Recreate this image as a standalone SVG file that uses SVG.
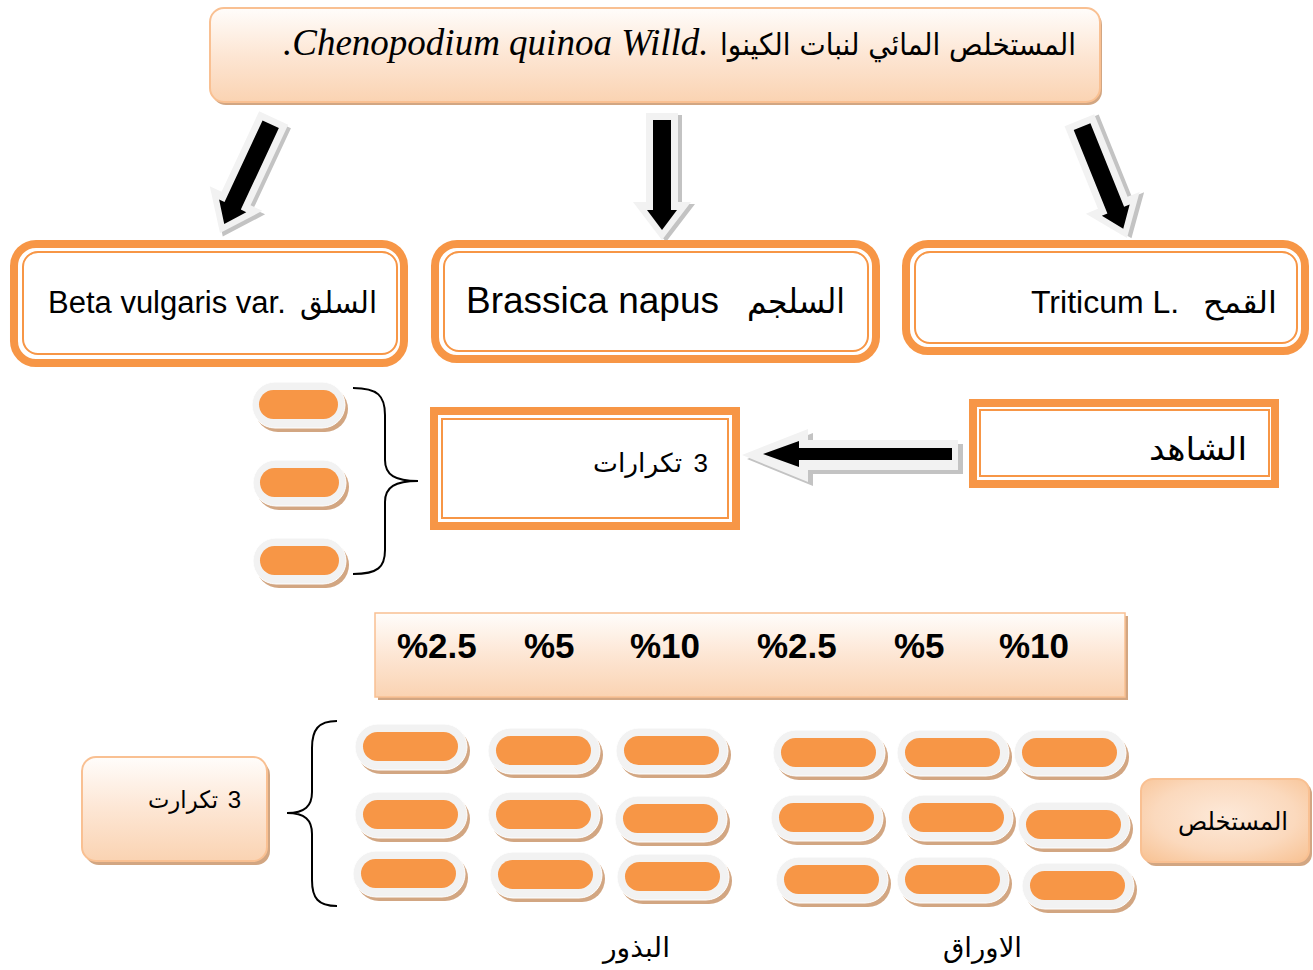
<svg xmlns="http://www.w3.org/2000/svg" width="1313" height="970" viewBox="0 0 1313 970">
<defs>
<style>
.thick{fill:#fff;stroke:#f79646;stroke-width:8}
.thin{fill:none;stroke:#f79646;stroke-width:2}
.peach{fill:url(#gPeach);stroke:#f9c092;stroke-width:2}
.sh{fill:#d2a682}
.lat{font-family:"Liberation Sans",Arial,sans-serif;fill:#000}
.ser{font-family:"Liberation Serif","Times New Roman",serif;font-style:italic;fill:#000}
.ar{font-family:"DejaVu Sans","Liberation Sans",sans-serif;fill:#000}
.pct{font-family:"Liberation Sans",Arial,sans-serif;font-weight:bold;font-size:35px;fill:#000}
.brace{fill:none;stroke:#000;stroke-width:2}
</style>
<linearGradient id="gPeach" x1="0" y1="0" x2="0" y2="1">
<stop offset="0" stop-color="#fffdfb"/>
<stop offset="0.5" stop-color="#fde6d4"/>
<stop offset="1" stop-color="#fad3b2"/>
</linearGradient>
<radialGradient id="gRad" cx="0.5" cy="0.45" r="0.7">
<stop offset="0" stop-color="#fde9d9"/>
<stop offset="0.6" stop-color="#fbd9bd"/>
<stop offset="1" stop-color="#f8c497"/>
</radialGradient>
<g id="pillB">
<rect x="3" y="4" width="112" height="46" rx="23" fill="#d2a682"/>
<rect x="0" y="0" width="112" height="46" rx="23" fill="#f2f2f2" stroke="#fff" stroke-width="1"/>
<rect x="8" y="8" width="95" height="29" rx="14.5" fill="#f79646"/>
</g>
<g id="pillS">
<rect x="3" y="4" width="93" height="46" rx="23" fill="#d2a682"/>
<rect x="0" y="0" width="93" height="46" rx="23" fill="#f2f2f2" stroke="#fff" stroke-width="1"/>
<rect x="7" y="8" width="79" height="29" rx="14.5" fill="#f79646"/>
</g>
<g id="darr">
<polygon transform="translate(4,2)" points="-16,-127 16,-127 16,-38 29,-38 0,0 -29,-38 -16,-38" fill="#c3c3c3"/>
<polygon points="-16,-127 16,-127 16,-38 29,-38 0,0 -29,-38 -16,-38" fill="#f2f2f2"/>
<polygon points="-9,-120 9,-120 9,-30 15,-30 0,-10 -15,-30 -9,-30" fill="#000"/>
</g>
</defs>
<rect width="1313" height="970" fill="#fff"/>

<g id="connectors">
<use href="#darr" transform="translate(220,233) rotate(25)"/>
<use href="#darr" transform="translate(662,240)"/>
<use href="#darr" transform="translate(1127,238) rotate(-22)"/>
<g id="hArrow">
<polygon transform="translate(5,4)" points="742,455 808,429 808,440 958,440 958,470 808,470 808,482" fill="#c3c3c3"/>
<polygon points="742,455 808,429 808,440 958,440 958,470 808,470 808,482" fill="#f2f2f2"/>
<polygon points="763,454 799,441 799,448 952,448 952,460 799,460 799,467" fill="#000"/>
</g>
<path class="brace" d="M353,388 C378,388 385,396 385,415 L385,460 C385,475 395,481 418,481 C395,481 385,487 385,502 L385,550 C385,567 378,574 353,574"/>
<path class="brace" d="M337,721 C318,721 312,730 312,748 L312,792 C312,806 305,813 287,813 C305,813 312,820 312,834 L312,880 C312,898 318,906 337,906"/>
</g>

<g id="title">
<rect x="212" y="11" width="890" height="94" rx="14" class="sh"/>
<rect x="210" y="8" width="890" height="94" rx="14" class="peach"/>
<text x="283" y="55" class="ser" font-size="37">.Chenopodium quinoa Willd.</text>
<text x="1076" y="55" class="ar" font-size="30" text-anchor="end" textLength="356" lengthAdjust="spacingAndGlyphs">المستخلص المائي لنبات الكينوا</text>
</g>

<g id="beta">
<rect x="14" y="244" width="390" height="119" rx="22" class="thick"/>
<rect x="23" y="252" width="374" height="102" rx="15" class="thin"/>
<text x="48" y="313" class="lat" font-size="31">Beta vulgaris var.</text>
<text x="377" y="313" class="ar" font-size="30" text-anchor="end" textLength="77" lengthAdjust="spacingAndGlyphs">السلق</text>
</g>

<g id="brassica">
<rect x="435" y="244" width="441" height="115" rx="22" class="thick"/>
<rect x="444" y="252" width="424" height="99" rx="15" class="thin"/>
<text x="466" y="313" class="lat" font-size="37">Brassica napus</text>
<text x="845" y="313" class="ar" font-size="34" text-anchor="end" textLength="98" lengthAdjust="spacingAndGlyphs">السلجم</text>
</g>

<g id="triticum">
<rect x="906" y="244" width="399" height="107" rx="22" class="thick"/>
<rect x="915" y="252" width="382" height="91" rx="15" class="thin"/>
<text x="1031" y="313" class="lat" font-size="32">Triticum L.</text>
<text x="1277" y="313" class="ar" font-size="30" text-anchor="end" textLength="74" lengthAdjust="spacingAndGlyphs">القمح</text>
</g>

<g id="reps1">
<rect x="434" y="411" width="302" height="115" class="thick"/>
<rect x="442" y="419" width="286" height="99" class="thin"/>
<text x="708" y="472" class="lat" font-size="26" text-anchor="end">3</text>
<text x="682" y="472" class="ar" font-size="26" text-anchor="end" textLength="89" lengthAdjust="spacingAndGlyphs">تكرارات</text>
</g>

<g id="control">
<rect x="973" y="403" width="302" height="81" class="thick"/>
<rect x="980" y="410" width="289" height="66" class="thin"/>
<text x="1247" y="460" class="ar" font-size="32" text-anchor="end" textLength="98" lengthAdjust="spacingAndGlyphs">الشاهد</text>
</g>

<g id="pillsLeft">
<use href="#pillS" x="252" y="382"/>
<use href="#pillS" x="253" y="460"/>
<use href="#pillS" x="253" y="538"/>
</g>

<g id="concentrations">
<rect x="378" y="616" width="750" height="84" class="sh"/>
<rect x="375" y="613" width="750" height="84" fill="url(#gPeach)" stroke="#f9c092" stroke-width="1.5"/>
<text x="397" y="658" class="pct">%2.5</text>
<text x="524" y="658" class="pct">%5</text>
<text x="630" y="658" class="pct">%10</text>
<text x="757" y="658" class="pct">%2.5</text>
<text x="894" y="658" class="pct">%5</text>
<text x="999" y="658" class="pct">%10</text>
</g>

<g id="reps2">
<rect x="85" y="761" width="185" height="104" rx="14" class="sh"/>
<rect x="82" y="757" width="185" height="104" rx="14" class="peach"/>
<text x="241" y="808" class="lat" font-size="24" text-anchor="end">3</text>
<text x="218" y="808" class="ar" font-size="24" text-anchor="end" textLength="70" lengthAdjust="spacingAndGlyphs">تكرارت</text>
</g>

<g id="pillsSeeds">
<use href="#pillB" x="355" y="724"/>
<use href="#pillB" x="355" y="792"/>
<use href="#pillB" x="353" y="851"/>
<use href="#pillB" x="488" y="728"/>
<use href="#pillB" x="488" y="792"/>
<use href="#pillB" x="490" y="852"/>
<use href="#pillB" x="616" y="728"/>
<use href="#pillB" x="615" y="796"/>
<use href="#pillB" x="617" y="854"/>
</g>

<g id="pillsLeaves">
<use href="#pillB" x="773" y="730"/>
<use href="#pillB" x="771" y="795"/>
<use href="#pillB" x="776" y="857"/>
<use href="#pillB" x="897" y="730"/>
<use href="#pillB" x="901" y="795"/>
<use href="#pillB" x="897" y="857"/>
<use href="#pillB" x="1014" y="730"/>
<use href="#pillB" x="1018" y="802"/>
<use href="#pillB" x="1022" y="863"/>
</g>

<g id="extract">
<rect x="1144" y="782" width="168" height="84" rx="12" class="sh"/>
<rect x="1141" y="779" width="168" height="83" rx="12" fill="url(#gRad)" stroke="#f9c092" stroke-width="2"/>
<text x="1288" y="830" class="ar" font-size="25" text-anchor="end" textLength="110" lengthAdjust="spacingAndGlyphs">المستخلص</text>
</g>

<g id="labels">
<text x="670" y="957" class="ar" font-size="27" text-anchor="end" textLength="67" lengthAdjust="spacingAndGlyphs">البذور</text>
<text x="1022" y="957" class="ar" font-size="27" text-anchor="end" textLength="79" lengthAdjust="spacingAndGlyphs">الاوراق</text>
</g>
</svg>
